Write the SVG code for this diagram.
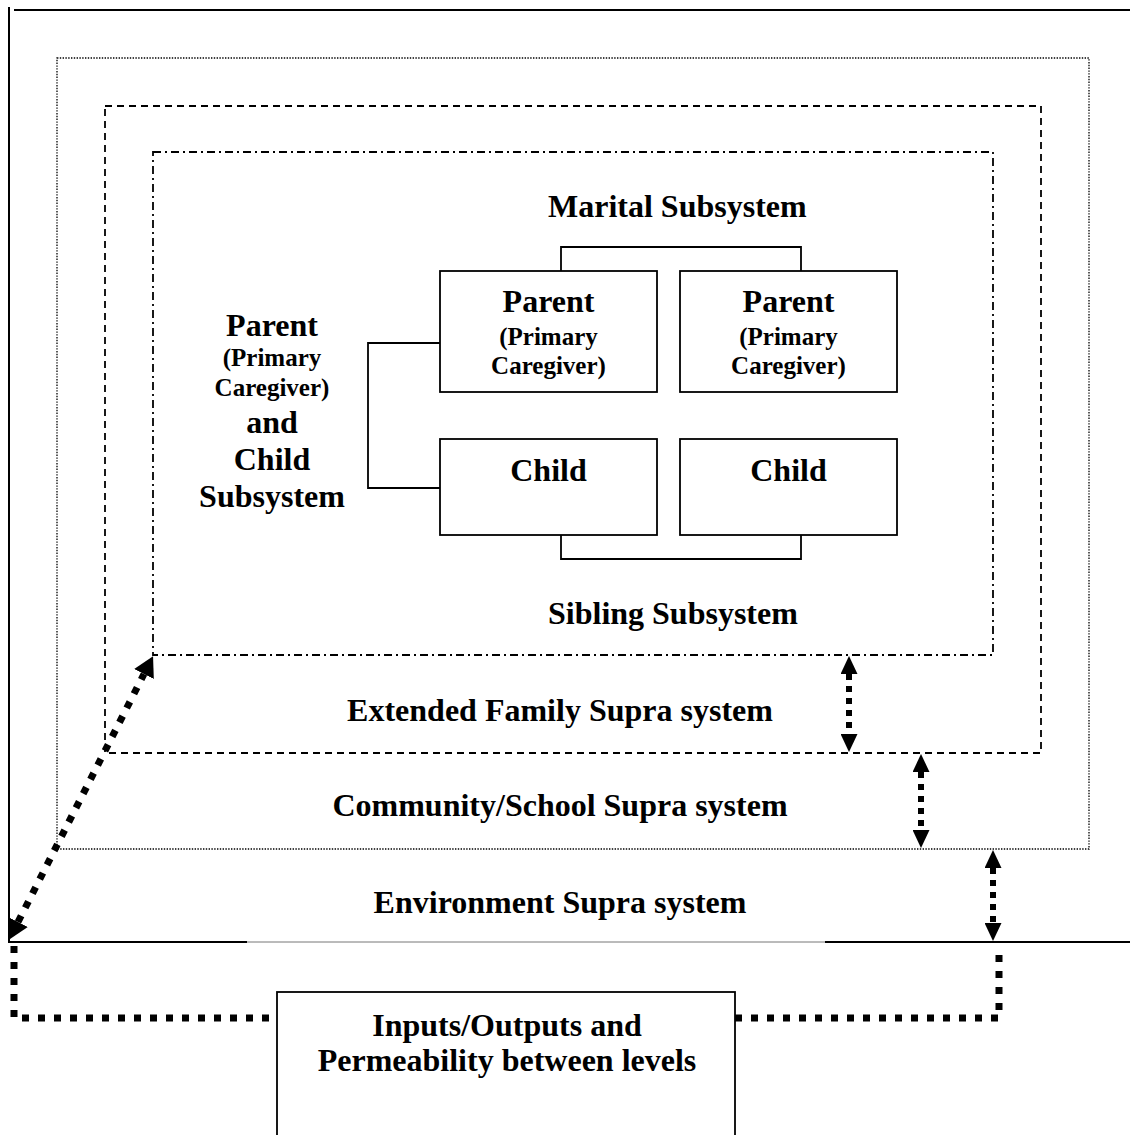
<svg xmlns="http://www.w3.org/2000/svg" width="1130" height="1135" viewBox="0 0 1130 1135">
<style>
text{font-family:"Liberation Serif","Times New Roman",serif;font-weight:bold;fill:#000}
.big{font-size:32px}
.small{font-size:25px}
.mid{text-anchor:middle}
.box{fill:#fff;stroke:#000;stroke-width:1.8}
.ln{fill:none;stroke:#000;stroke-width:1.8}
.frame{fill:none;stroke:#000;stroke-width:2}
.dot{fill:none;stroke:#000;stroke-width:1.3;stroke-dasharray:1.4 1.4}
.dash{fill:none;stroke:#000;stroke-width:1.8;stroke-dasharray:7 5}
.dashdot{fill:none;stroke:#000;stroke-width:1.8;stroke-dasharray:8 4 2 4}
.thick{fill:none;stroke:#000;stroke-width:7;stroke-dasharray:7 9}
.vthick{fill:none;stroke:#000;stroke-width:6;stroke-dasharray:6 6}
</style>
<defs>
<marker id="ah" markerUnits="userSpaceOnUse" markerWidth="18" markerHeight="17" refX="0" refY="8.5" orient="auto-start-reverse">
<path d="M0,0 L18,8.5 L0,17 z" fill="#000"/>
</marker>
<marker id="ahL" markerUnits="userSpaceOnUse" markerWidth="20" markerHeight="22" refX="0" refY="11" orient="auto-start-reverse">
<path d="M0,0 L20,11 L0,22 z" fill="#000"/>
</marker>
</defs>
<rect width="1130" height="1135" fill="#fff"/>

<g id="frame">
<line class="frame" x1="9" y1="7" x2="9" y2="943"/>
<line class="frame" x1="14" y1="10" x2="1130" y2="10"/>
<line class="frame" x1="9" y1="942" x2="247" y2="942"/>
<line x1="247" y1="942" x2="825" y2="942" stroke="#777" stroke-width="1"/>
<line class="frame" x1="825" y1="942" x2="1130" y2="942"/>
</g>

<g id="community-school">
<rect class="dot" x="57" y="58" width="1032" height="791"/>
</g>
<g id="extended-family">
<rect class="dash" x="105" y="106" width="936" height="647"/>
</g>
<g id="family-system">
<rect class="dashdot" x="153" y="152" width="840" height="503"/>
</g>

<g id="connectors">
<path class="ln" d="M561,271 V247 H801 V271"/>
<path class="ln" d="M561,535 V559 H801 V535"/>
<path class="ln" d="M440,343 H368 V488 H440"/>
<path class="vthick" d="M849,674 V734" marker-start="url(#ah)" marker-end="url(#ah)"/>
<path class="vthick" d="M921,772 V830" marker-start="url(#ah)" marker-end="url(#ah)"/>
<path class="vthick" d="M993,868 V923" marker-start="url(#ah)" marker-end="url(#ah)"/>
<path class="thick" d="M18,922 L144,674" marker-start="url(#ahL)" marker-end="url(#ahL)"/>
<path class="thick" d="M14,946 V1018 H277"/>
<path class="thick" d="M735,1018 H999 V946"/>
</g>

<g id="parent1">
<rect class="box" x="440" y="271" width="217" height="121"/>
<text class="big mid" x="548.5" y="312">Parent</text>
<text class="small mid" x="548.5" y="345">(Primary</text>
<text class="small mid" x="548.5" y="374">Caregiver)</text>
</g>
<g id="parent2">
<rect class="box" x="680" y="271" width="217" height="121"/>
<text class="big mid" x="788.5" y="312">Parent</text>
<text class="small mid" x="788.5" y="345">(Primary</text>
<text class="small mid" x="788.5" y="374">Caregiver)</text>
</g>
<g id="child1">
<rect class="box" x="440" y="439" width="217" height="96"/>
<text class="big mid" x="548.5" y="481">Child</text>
</g>
<g id="child2">
<rect class="box" x="680" y="439" width="217" height="96"/>
<text class="big mid" x="788.5" y="481">Child</text>
</g>

<g id="labels">
<text class="big" x="548" y="217">Marital Subsystem</text>
<text class="big" x="548" y="624">Sibling Subsystem</text>
<text class="big mid" x="272" y="336">Parent</text>
<text class="small mid" x="272" y="366">(Primary</text>
<text class="small mid" x="272" y="396">Caregiver)</text>
<text class="big mid" x="272" y="433">and</text>
<text class="big mid" x="272" y="470">Child</text>
<text class="big mid" x="272" y="507">Subsystem</text>
<text class="big mid" x="560" y="721">Extended Family Supra system</text>
<text class="big mid" x="560" y="816">Community/School Supra system</text>
<text class="big mid" x="560" y="913">Environment Supra system</text>
</g>

<g id="inputs-outputs">
<rect class="box" x="277" y="992" width="458" height="160"/>
<text class="big mid" x="507" y="1036">Inputs/Outputs and</text>
<text class="big mid" x="507" y="1071">Permeability between levels</text>
</g>
</svg>
